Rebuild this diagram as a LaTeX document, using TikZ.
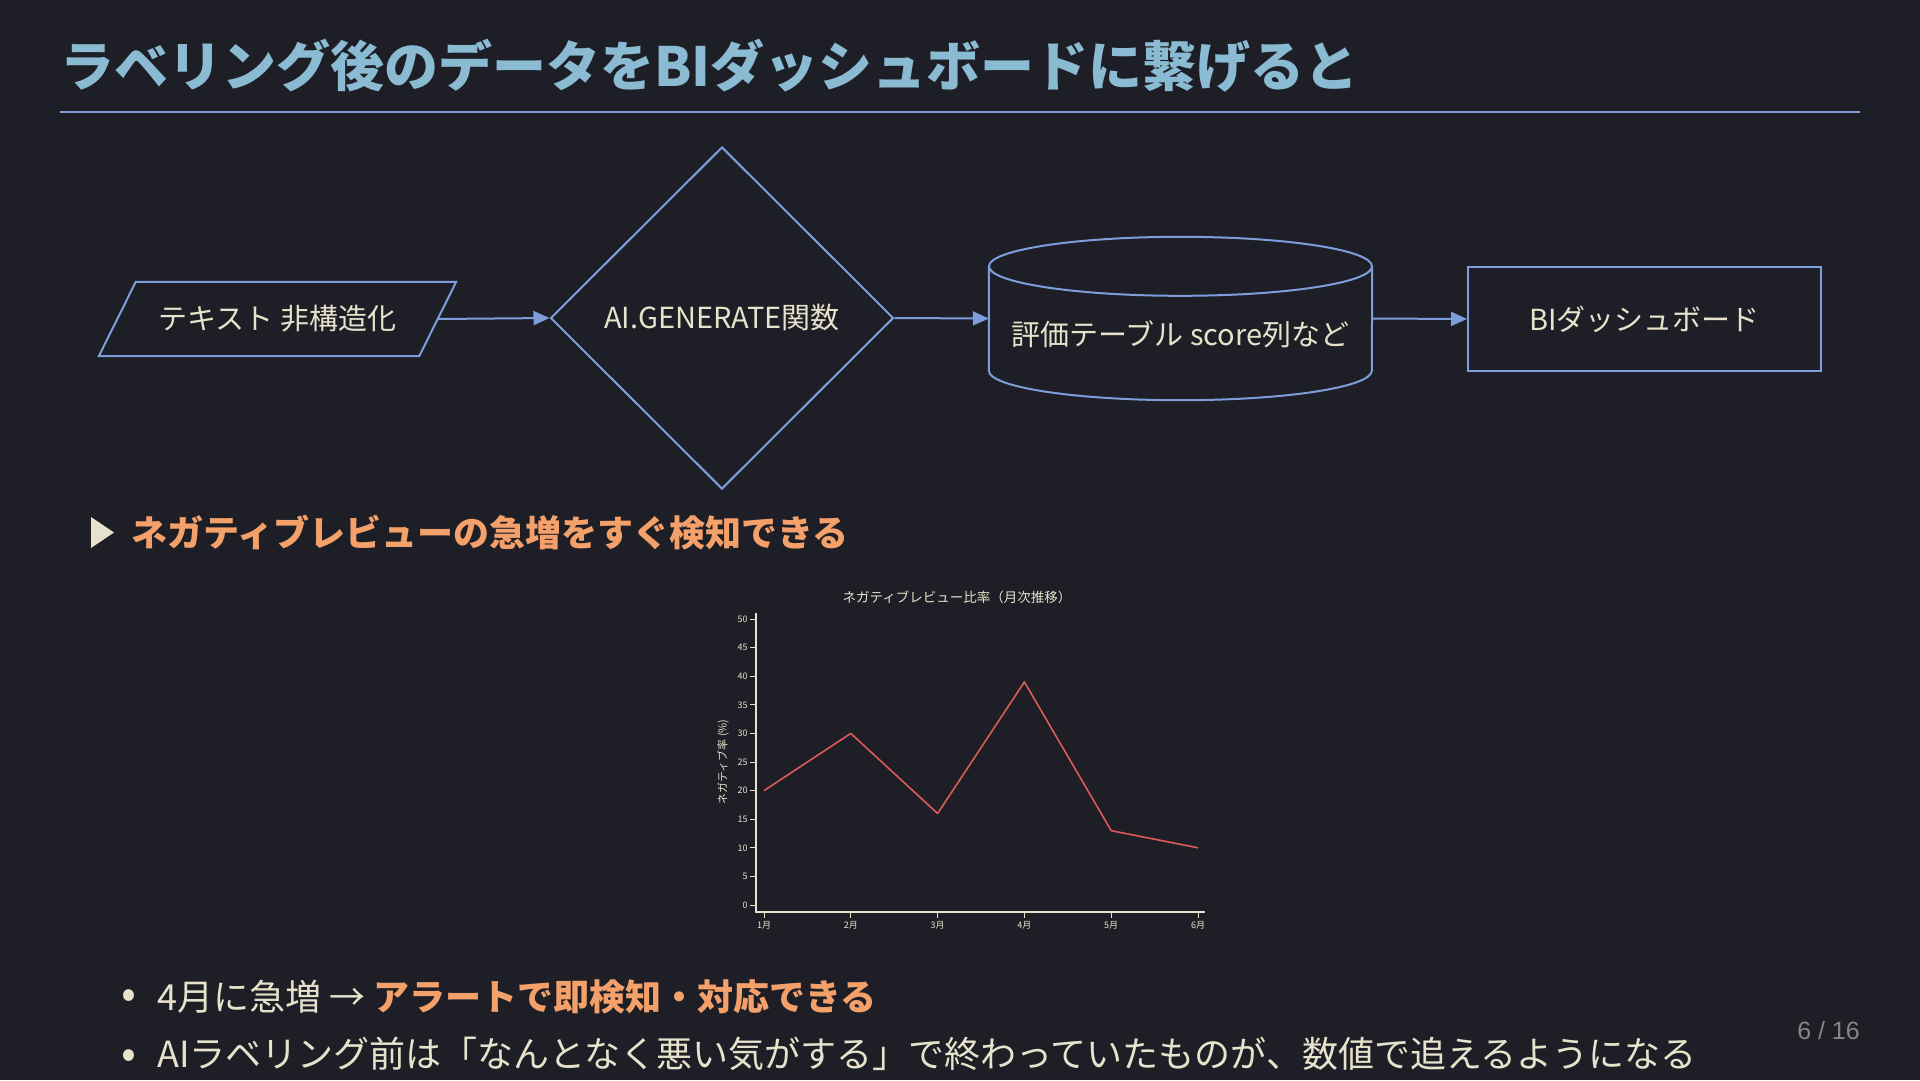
\documentclass[tikz,border=0pt]{standalone}
\usepackage{fontspec}
\setmainfont{Noto Sans CJK JP}
\newfontfamily\pagefont{Liberation Sans}
\usetikzlibrary{shapes.geometric,arrows.meta,positioning}
\definecolor{bgdark}{HTML}{1E1F26}
\definecolor{flowblue}{HTML}{7E9EDB}
\definecolor{titleblue}{HTML}{8ABBD3}
\definecolor{creamtext}{HTML}{E6E2CC}
\definecolor{accentorange}{HTML}{F4A06A}
\definecolor{chartred}{HTML}{DD5A5A}
\definecolor{pagegray}{HTML}{85868C}

\begin{document}
\begin{tikzpicture}[x=1pt, y=-1pt, >={Triangle[length=16pt,width=14pt]},
    flowline/.style={draw=flowblue, line width=2pt},
    flowtext/.style={text=creamtext, font=\fontsize{29}{34}\selectfont},
    charttext/.style={text=creamtext, inner sep=0}]
    \fill[bgdark] (0,0) rectangle (1920,1080);
    \useasboundingbox (0,0) rectangle (1920,1080);

    \node[anchor=west, inner sep=0, text=titleblue, font=\fontsize{54}{62}\selectfont\bfseries] (title) at (60,66) {ラベリング後のデータをBIダッシュボードに繋げると};
    \coordinate (ruleL) at (60,112);
    \coordinate (ruleR) at (1860,112);
    \draw[flowblue, line width=2.5pt] (ruleL) -- (ruleR);

    \node[minimum width=357pt, minimum height=74pt, inner sep=0, flowtext] (src) at (277.5,319) {テキスト 非構造化};
    \node[diamond, minimum width=343pt, minimum height=342pt, inner sep=0, flowline, flowtext] (gen) at (722,318) {AI.GENERATE関数};
    \node[minimum width=383pt, minimum height=163pt, inner sep=0] (tbl) at (1180.5,318.5) {};
    \node[flowtext, inner sep=0] (tbltext) at ([yshift=-16pt]tbl.center) {評価テーブル score列など};
    \node[minimum width=353pt, minimum height=104pt, inner sep=0, flowline, flowtext] (bi) at (1644.5,319) {BIダッシュボード};

    \draw[flowline] (src.south west) -- ([xshift=37pt]src.north west) -- (src.north east) -- ([xshift=-37pt]src.south east) -- cycle;
    \draw[flowline] ([yshift=-29.5pt]tbl.north) ellipse (191.5pt and 29.5pt);
    \draw[flowline] ([yshift=-29.5pt]tbl.north west) -- ([yshift=29.5pt]tbl.south west)
        arc[start angle=180, end angle=360, x radius=191.5pt, y radius=29.5pt] -- ([yshift=-29.5pt]tbl.north east);

    \draw[flowline, ->] ([xshift=-18.5pt]src.east) -- (gen.west);
    \draw[flowline, ->] (gen.east) -- (tbl.west);
    \draw[flowline, ->] (tbl.east) -- (bi.west);

    \fill[creamtext] (91,517) -- (114,532.5) -- (91,548) -- cycle;
    \node[anchor=west, inner sep=0, text=accentorange, font=\fontsize{36}{43}\selectfont\bfseries] (point) at (131,533) {ネガティブレビューの急増をすぐ検知できる};

    \node[charttext, font=\fontsize{13.5}{16}\selectfont] (charttitle) at (957,597) {ネガティブレビュー比率（月次推移）};
    \coordinate (ytop) at (756,613);
    \coordinate (origin) at (756,912);
    \coordinate (xend) at (1205,912);
    \draw[creamtext, line width=1.6pt] (ytop) -- (origin) -- (xend);
    \foreach \v in {0,5,...,50}
        \draw[creamtext, line width=1pt] (750,{905-5.72*\v}) node[left=2pt, charttext, font=\fontsize{9}{10}\selectfont] (ytick\v) {\v} -- (756,{905-5.72*\v});
    \foreach \m in {1,...,6}
        \draw[creamtext, line width=1pt] ({764+86.8*(\m-1)},912) -- ({764+86.8*(\m-1)},918) node[below=3pt, charttext, font=\fontsize{9}{10}\selectfont] (xtick\m) {{\m}月};
    \node[rotate=90, charttext, font=\fontsize{11}{12}\selectfont] (ylabel) at (723,762) {ネガティブ率 (\%)};
    \foreach \m/\v in {1/20,2/30,3/16,4/39,5/13,6/10}
        \coordinate (p\m) at ({764+86.8*(\m-1)},{905-5.72*\v});
    \draw[chartred, line width=1.6pt, line join=round] (p1) -- (p2) -- (p3) -- (p4) -- (p5) -- (p6);

    \node[text=creamtext, inner sep=0, font=\fontsize{44}{48}\selectfont] (dot1) at (129,999) {•};
    \node[anchor=west, inner sep=0, text=creamtext, font=\fontsize{36}{43}\selectfont] (item1) at (157,997) {4月に急増 → {\bfseries\color{accentorange}アラートで即検知・対応できる}};
    \node[text=creamtext, inner sep=0, font=\fontsize{44}{48}\selectfont] (dot2) at (129,1059) {•};
    \node[anchor=west, inner sep=0, text=creamtext, font=\fontsize{36}{43}\selectfont] (item2) at (157,1054) {AIラベリング前は「なんとなく悪い気がする」で終わっていたものが、数値で追えるようになる};

    \node[anchor=east, inner sep=0, text=pagegray, font=\pagefont\fontsize{25}{29}\selectfont] (pagenum) at (1860,1031) {6 / 16};
\end{tikzpicture}
\end{document}
